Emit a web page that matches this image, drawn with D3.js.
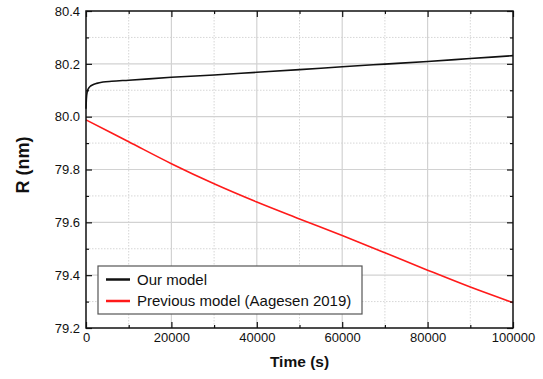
<!DOCTYPE html>
<html>
<head>
<meta charset="utf-8">
<script src="https://cdn.jsdelivr.net/npm/d3@7"></script>
<style>
  html, body { margin: 0; padding: 0; background: #fff; }
  text { font-family: Arial, "Liberation Sans", sans-serif; fill: #111; }
</style>
</head>
<body>
<script>
// Data
const ourTime = [0, 100, 300, 600, 1000, 1500, 2500, 4000, 6000, 10000, 20000, 30000, 40000, 50000, 60000, 70000, 80000, 90000, 100000];
const ourR = [80.03, 80.07, 80.095, 80.107, 80.115, 80.12, 80.126, 80.131, 80.134, 80.138, 80.149, 80.158, 80.168, 80.178, 80.189, 80.199, 80.209, 80.22, 80.231];

const prevTime = [0, 10000, 20000, 30000, 40000, 50000, 60000, 70000, 80000, 90000, 100000];
const prevR = [79.988, 79.905, 79.822, 79.746, 79.677, 79.613, 79.55, 79.485, 79.419, 79.355, 79.296];

const xMajor = [0, 20000, 40000, 60000, 80000, 100000];
const xMinor = [10000, 30000, 50000, 70000, 90000];
const yMajor = [79.2, 79.4, 79.6, 79.8, 80.0, 80.2, 80.4];
const yMinor = [79.3, 79.5, 79.7, 79.9, 80.1, 80.3];

const legendLabels = ["Our model", "Previous model (Aagesen 2019)"];
const legendColors = ["#111", "#ff1a1a"];

const width = 543;
const height = 379;
const plot = { left: 86, right: 513, top: 11, bottom: 328 };

const svg = d3.select("body")
  .append("svg")
  .attr("width", width)
  .attr("height", height);

const x = d3.scaleLinear().domain([0, 100000]).range([plot.left, plot.right]);
const y = d3.scaleLinear().domain([79.2, 80.4]).range([plot.bottom, plot.top]);

// Grid: dotted minor, solid major
const grid = svg.append("g");
grid.selectAll(".vminor").data(xMinor).enter().append("line")
  .attr("x1", d => x(d)).attr("x2", d => x(d))
  .attr("y1", plot.top).attr("y2", plot.bottom)
  .attr("stroke", "#d6d6d6").attr("stroke-dasharray", "1.5,1.5");
grid.selectAll(".hminor").data(yMinor).enter().append("line")
  .attr("y1", d => y(d)).attr("y2", d => y(d))
  .attr("x1", plot.left).attr("x2", plot.right)
  .attr("stroke", "#d6d6d6").attr("stroke-dasharray", "1.5,1.5");
grid.selectAll(".vmajor").data(xMajor.slice(1, -1)).enter().append("line")
  .attr("x1", d => x(d)).attr("x2", d => x(d))
  .attr("y1", plot.top).attr("y2", plot.bottom)
  .attr("stroke", "#d2d2d2").attr("stroke-width", 1.2);
grid.selectAll(".hmajor").data(yMajor.slice(1, -1)).enter().append("line")
  .attr("y1", d => y(d)).attr("y2", d => y(d))
  .attr("x1", plot.left).attr("x2", plot.right)
  .attr("stroke", "#d2d2d2").attr("stroke-width", 1.2);

// Curves
const lineOur = d3.line().x((d, i) => x(ourTime[i])).y(d => y(d)).curve(d3.curveMonotoneX);
const linePrev = d3.line().x((d, i) => x(prevTime[i])).y(d => y(d)).curve(d3.curveMonotoneX);

svg.append("path")
  .attr("d", linePrev(prevR))
  .attr("fill", "none")
  .attr("stroke", legendColors[1])
  .attr("stroke-width", 1.6);

svg.append("path")
  .attr("d", lineOur(ourR))
  .attr("fill", "none")
  .attr("stroke", legendColors[0])
  .attr("stroke-width", 1.6);

// Axes (ticks point inward)
function addAxis(axis, transform, labels) {
  const g = svg.append("g").attr("transform", transform).call(axis);
  g.select(".domain").remove();
  g.selectAll("line").attr("stroke", "#111").attr("stroke-width", 1.2);
  g.selectAll("text")
    .style("font-family", "Arial, 'Liberation Sans', sans-serif")
    .style("font-size", "13px")
    .attr("fill", "#111");
  if (!labels) g.selectAll("text").remove();
  return g;
}

addAxis(d3.axisBottom(x).tickValues(xMajor).tickSize(-6).tickPadding(5).tickFormat(d3.format("d")),
  `translate(0,${plot.bottom})`, true);
addAxis(d3.axisBottom(x).tickValues(xMinor).tickSize(-3),
  `translate(0,${plot.bottom})`, false);
addAxis(d3.axisTop(x).tickValues(xMajor).tickSize(-6), `translate(0,${plot.top})`, false);
addAxis(d3.axisTop(x).tickValues(xMinor).tickSize(-3), `translate(0,${plot.top})`, false);

addAxis(d3.axisLeft(y).tickValues(yMajor).tickSize(-6).tickPadding(6).tickFormat(d3.format(".1f")),
  `translate(${plot.left},0)`, true);
addAxis(d3.axisLeft(y).tickValues(yMinor).tickSize(-3), `translate(${plot.left},0)`, false);
addAxis(d3.axisRight(y).tickValues(yMajor).tickSize(-6), `translate(${plot.right},0)`, false);
addAxis(d3.axisRight(y).tickValues(yMinor).tickSize(-3), `translate(${plot.right},0)`, false);

// Frame
svg.append("rect")
  .attr("x", plot.left).attr("y", plot.top)
  .attr("width", plot.right - plot.left).attr("height", plot.bottom - plot.top)
  .attr("fill", "none").attr("stroke", "#111").attr("stroke-width", 1.5);

// Axis titles
svg.append("text")
  .attr("x", (plot.left + plot.right) / 2)
  .attr("y", 367)
  .attr("text-anchor", "middle")
  .style("font-size", "15.5px")
  .style("font-weight", "bold")
  .text("Time (s)");

svg.append("text")
  .attr("transform", "translate(29,165) rotate(-90)")
  .attr("text-anchor", "middle")
  .style("font-size", "18px")
  .style("font-weight", "bold")
  .text("R (nm)");

// Legend
const legend = svg.append("g").attr("transform", "translate(98,266)");
legend.append("rect")
  .attr("width", 264).attr("height", 48)
  .attr("fill", "#fff").attr("stroke", "#555").attr("stroke-width", 1.2);

const items = legend.selectAll(".item")
  .data(legendLabels)
  .enter().append("g")
  .attr("transform", (d, i) => `translate(0,${13.5 + i * 21.5})`);

items.append("line")
  .attr("x1", 8).attr("x2", 32)
  .attr("stroke", (d, i) => legendColors[i])
  .attr("stroke-width", 2.5);

items.append("text")
  .attr("x", 39).attr("y", 5)
  .style("font-size", "15px")
  .text(d => d);
</script>
</body>
</html>
